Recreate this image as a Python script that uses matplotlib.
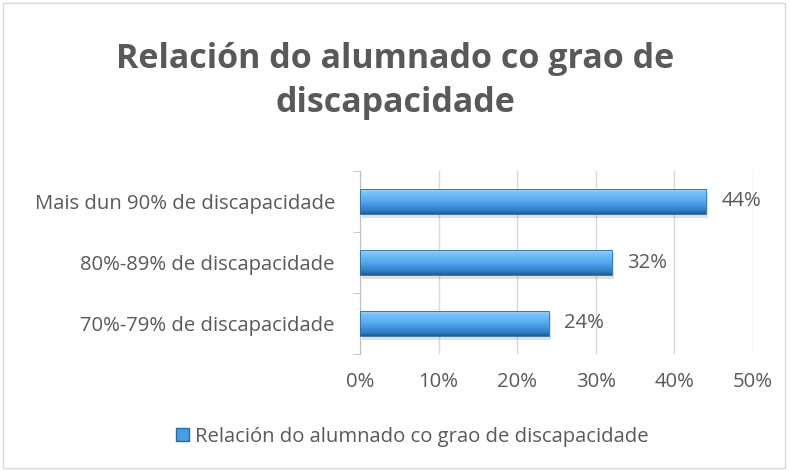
import matplotlib.pyplot as plt
import numpy as np
from matplotlib.ticker import FuncFormatter, FixedLocator
from matplotlib.patches import Rectangle
from matplotlib.colors import LinearSegmentedColormap
import matplotlib.patheffects as pe

categories = ['70%-79% de discapacidade', '80%-89% de discapacidade', 'Mais dun 90% de discapacidade']
values = [24, 32, 44]
series_name = 'Relación do alumnado co grao de discapacidade'
title = 'Relación do alumnado co grao de\ndiscapacidade'

text_color = '#595959'
fs = 14.6
plt.rcParams['font.family'] = ['Open Sans', 'DejaVu Sans']

fig = plt.figure(figsize=(7.9, 4.71), dpi=100)
ax = fig.add_axes([360 / 790, 1 - 354 / 471, 393 / 790, 183 / 471])

# chart border
fig.patches.append(Rectangle((0.004, 0.006), 0.99, 0.988, transform=fig.transFigure,
                             fill=False, edgecolor='#d9d9d9', linewidth=1))

y = np.arange(len(categories))
bars = ax.barh(y, values, height=0.42, color='#4a9de0', edgecolor='none', zorder=3)

# vertical gradient + soft shadow on each bar
grad = np.linspace(0, 1, 100).reshape(-1, 1)
cmap = LinearSegmentedColormap.from_list(
    'bar', [(0, '#1f5a92'), (0.12, '#2f7cc4'), (0.5, '#55a9ee'), (0.85, '#7cc4f6'), (1, '#a9defb')])
for b in bars:
    b.set_path_effects([pe.SimplePatchShadow(offset=(1.5, -2.5), shadow_rgbFace='#000000', alpha=0.12),
                        pe.Normal()])
    x0, y0 = b.get_x(), b.get_y()
    w, h = b.get_width(), b.get_height()
    im = ax.imshow(grad, extent=[x0, x0 + w, y0, y0 + h], aspect='auto', cmap=cmap,
                   origin='lower', zorder=3.5)
    im.set_clip_path(b)
    ax.add_patch(Rectangle((x0, y0), w, h, fill=False, edgecolor='#2a6aa5', linewidth=0.6, zorder=4))

for v, yy in zip(values, y):
    ax.text(v + 2, yy, f'{v}%', va='center', ha='left', fontsize=fs, color=text_color)

ax.set_xlim(0, 50)
ax.set_ylim(-0.5, len(categories) - 0.5)
ax.set_xticks(np.arange(0, 51, 10))
ax.xaxis.set_major_formatter(FuncFormatter(lambda v, p: f'{int(v)}%'))
ax.set_yticks(y)
ax.set_yticklabels(categories)
ax.yaxis.set_minor_locator(FixedLocator(np.arange(-0.5, len(categories), 1)))
ax.tick_params(axis='y', which='major', length=0, pad=18, labelsize=fs, labelcolor=text_color)
ax.tick_params(axis='y', which='minor', length=5, color='#bfbfbf', direction='out')
ax.tick_params(axis='x', length=0, pad=13, labelsize=fs, labelcolor=text_color)
ax.grid(axis='x', color='#d9d9d9', linewidth=1, zorder=0)
for s in ['top', 'right', 'bottom']:
    ax.spines[s].set_visible(False)
ax.spines['left'].set_color('#bfbfbf')
ax.set_axisbelow(True)

fig.text(0.5, 0.828, title, ha='center', va='center', fontsize=24.5, fontweight='bold',
         color=text_color, linespacing=1.38)

handle = Rectangle((0, 0), 1, 1, facecolor='#4a9de0', edgecolor='#2a6aa5')
fig.legend([handle], [series_name], loc='center', bbox_to_anchor=(0.522, 1 - 437 / 471),
           frameon=False, fontsize=fs, labelcolor=text_color, handlelength=0.6,
           handleheight=0.6, handletextpad=0.3)

fig.savefig('out.png', dpi=100)
